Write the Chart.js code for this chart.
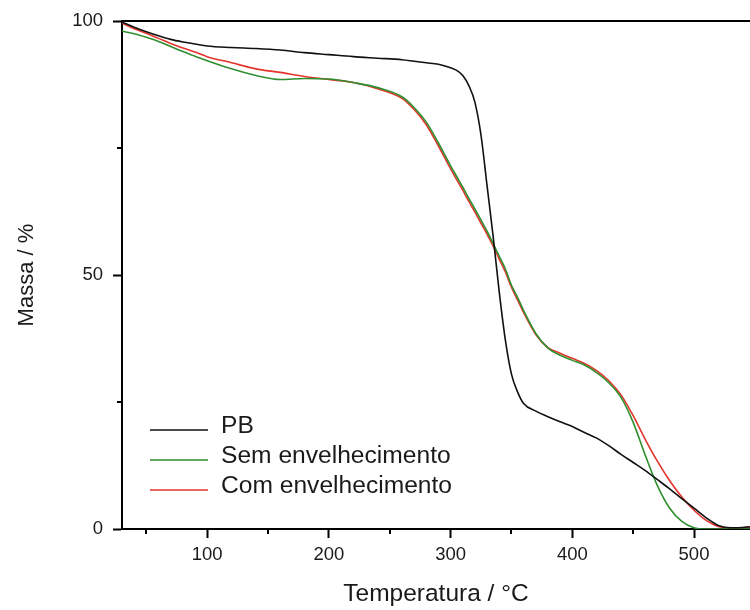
<!DOCTYPE html>
<html>
<head>
<meta charset="utf-8">
<script src="https://cdn.jsdelivr.net/npm/chart.js@4/dist/chart.umd.min.js"></script>
<style>
  html, body { margin: 0; padding: 0; background: #ffffff; }
  #wrap { width: 750px; height: 610px; }
</style>
</head>
<body>
<div id="wrap"><canvas id="tga" width="750" height="610"></canvas></div>
<script>
// Thermogravimetric curves: residual mass (%) versus temperature (°C)
const temperatures = [30, 40, 50, 60, 70, 80, 90, 100, 120, 140, 160, 180, 200, 220, 240, 260, 270, 280, 290, 300,
  305, 310, 315, 320, 325, 330, 335, 340, 345, 350, 355, 360, 370, 380, 390, 400, 410, 420, 430, 440,
  450, 460, 470, 480, 490, 500, 510, 520, 530, 540, 546];

const massPB = [99.8, 98.8, 97.9, 97.1, 96.4, 95.9, 95.5, 95.1, 94.8, 94.6, 94.3, 93.8, 93.4, 93.0, 92.7, 92.4, 92.1, 91.8, 91.5, 90.8,
  90.3, 89.3, 87.3, 84.0, 77.5, 67.5, 57.5, 46.6, 37.2, 30.5, 27.0, 24.7, 23.2, 22.1, 21.1, 20.2, 19.0, 17.9, 16.4, 14.7,
  13.1, 11.5, 9.7, 7.9, 6.0, 4.1, 2.2, 0.7, 0.25, 0.3, 0.45];

const massSem = [98.0, 97.5, 96.8, 96.0, 95.0, 94.0, 93.1, 92.2, 90.6, 89.3, 88.5, 88.7, 88.6, 87.9, 86.9, 85.1, 83.0, 80.1, 76.0, 71.5,
  69.4, 67.3, 65.1, 63.0, 60.8, 58.6, 56.2, 53.7, 51.2, 48.0, 45.6, 43.0, 38.5, 35.6, 34.2, 33.2, 32.3, 30.8, 28.8, 25.9,
  21.0, 14.5, 8.5, 4.1, 1.5, 0.25, 0.0, 0.0, 0.0, 0.0, 0.0];

const massCom = [99.6, 98.5, 97.6, 96.6, 95.6, 94.7, 93.9, 93.0, 91.8, 90.6, 89.9, 89.1, 88.5, 87.9, 86.7, 84.8, 82.6, 79.6, 75.4, 70.9,
  68.8, 66.7, 64.5, 62.4, 60.2, 58.0, 55.7, 53.1, 50.6, 47.6, 45.1, 42.6, 38.3, 35.7, 34.6, 33.6, 32.6, 31.2, 29.2, 26.4,
  22.3, 17.6, 13.3, 9.5, 6.3, 3.7, 1.7, 0.5, 0.2, 0.25, 0.4];

const seriesLabels = ['PB', 'Sem envelhecimento', 'Com envelhecimento'];
const seriesColors = ['#111111', '#2f8f2f', '#e2352c'];

const xMajorTicks = [100, 200, 300, 400, 500];
const xMinorTicks = [50, 150, 250, 350, 450];
const yMajorTicks = [0, 50, 100];
const yMinorTicks = [25, 75];

const FONT = "'Liberation Sans', Arial, Helvetica, sans-serif";

function toPoints(masses) {
  return temperatures.map((t, i) => ({ x: t, y: masses[i] }));
}

// Top frame line plus the short minor ticks on both axes
const frameAndMinorTicks = {
  id: 'frameAndMinorTicks',
  afterDraw(chart) {
    const { ctx, chartArea, scales } = chart;
    ctx.save();
    ctx.strokeStyle = '#000';
    ctx.lineWidth = 2;
    ctx.beginPath();
    ctx.moveTo(chartArea.left, chartArea.top);
    ctx.lineTo(chartArea.right, chartArea.top);
    xMinorTicks.forEach(v => {
      const px = Math.round(scales.x.getPixelForValue(v));
      ctx.moveTo(px, chartArea.bottom);
      ctx.lineTo(px, chartArea.bottom + 5);
    });
    yMinorTicks.forEach(v => {
      const py = Math.round(scales.y.getPixelForValue(v));
      ctx.moveTo(chartArea.left, py);
      ctx.lineTo(chartArea.left - 5, py);
    });
    ctx.stroke();
    ctx.restore();
  }
};

// Frameless legend placed in the lower-left of the plot
const innerLegend = {
  id: 'innerLegend',
  afterDraw(chart) {
    const { ctx, chartArea } = chart;
    const x0 = chartArea.left + 28;
    const y0 = chartArea.bottom - 99;
    const rowH = 30;
    ctx.save();
    ctx.font = '24.6px ' + FONT;
    ctx.textBaseline = 'middle';
    ctx.textAlign = 'left';
    chart.data.datasets.forEach((ds, i) => {
      const y = y0 + i * rowH;
      ctx.strokeStyle = ds.borderColor;
      ctx.lineWidth = 1.6;
      ctx.beginPath();
      ctx.moveTo(x0, y);
      ctx.lineTo(x0 + 58, y);
      ctx.stroke();
      ctx.fillStyle = '#1a1a1a';
      ctx.fillText(ds.label, x0 + 71, y - 4);
    });
    ctx.restore();
  }
};

const datasets = [massPB, massSem, massCom].map((m, i) => ({
  label: seriesLabels[i],
  data: toPoints(m),
  borderColor: seriesColors[i],
  backgroundColor: seriesColors[i],
  borderWidth: 1.6,
  pointRadius: 0,
  fill: false,
  cubicInterpolationMode: 'monotone'
}));

new Chart(document.getElementById('tga'), {
  type: 'line',
  data: { datasets },
  options: {
    responsive: false,
    animation: false,
    devicePixelRatio: 1,
    layout: { padding: { left: 0, right: 0, top: 20, bottom: 0 } },
    plugins: {
      legend: { display: false },
      tooltip: { enabled: false }
    },
    scales: {
      x: {
        type: 'linear',
        min: 30,
        max: 546,
        afterBuildTicks: s => { s.ticks = xMajorTicks.map(v => ({ value: v })); },
        afterFit: s => { s.height = 81; },
        ticks: {
          color: '#1a1a1a',
          font: { family: FONT, size: 18.5 },
          padding: 6,
          maxRotation: 0,
          autoSkip: false
        },
        grid: {
          display: true,
          drawOnChartArea: false,
          drawTicks: true,
          tickLength: 9,
          tickWidth: 2,
          tickColor: '#000'
        },
        border: { display: true, color: '#000', width: 2 },
        title: {
          display: true,
          text: 'Temperatura / °C',
          color: '#1a1a1a',
          font: { family: FONT, size: 24.5 },
          padding: { top: 0, bottom: 1 }
        }
      },
      y: {
        type: 'linear',
        min: 0,
        max: 100,
        afterBuildTicks: s => { s.ticks = yMajorTicks.map(v => ({ value: v })); },
        afterFit: s => { s.width = 122; },
        ticks: {
          color: '#1a1a1a',
          font: { family: FONT, size: 18.5 },
          padding: 10
        },
        grid: {
          display: true,
          drawOnChartArea: false,
          drawTicks: true,
          tickLength: 9,
          tickWidth: 2,
          tickColor: '#000'
        },
        border: { display: true, color: '#000', width: 2 },
        title: {
          display: true,
          text: 'Massa / %',
          color: '#1a1a1a',
          font: { family: FONT, size: 22 },
          padding: { top: 14, bottom: 0 }
        }
      }
    }
  },
  plugins: [frameAndMinorTicks, innerLegend]
});
</script>
</body>
</html>
